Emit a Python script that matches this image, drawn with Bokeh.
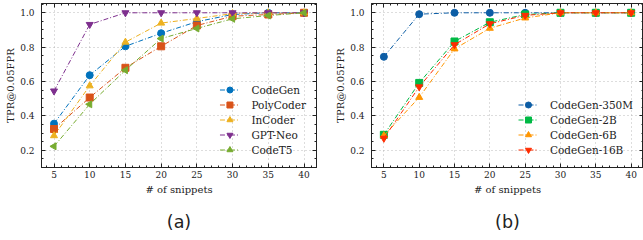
import numpy as np
from bokeh.plotting import figure
from bokeh.models import (Range1d, LinearAxis, FixedTicker, Legend, LegendItem, Title,
                          NumeralTickFormatter)
from bokeh.layouts import row
from bokeh.embed import file_html
from bokeh.resources import INLINE

snippets = [5, 10, 15, 20, 25, 30, 35, 40]

# panel (a)
codegen = [0.355, 0.637, 0.805, 0.881, 0.948, 0.99, 1.0, 1.0]
polycoder = [0.324, 0.507, 0.68, 0.805, 0.926, 0.98, 0.99, 1.0]
incoder = [0.285, 0.575, 0.829, 0.94, 0.967, 0.995, 1.0, 1.0]
gptneo = [0.545, 0.932, 1.0, 1.0, 1.0, 1.0, 1.0, 1.0]
codet5 = [0.223, 0.468, 0.666, 0.85, 0.909, 0.965, 0.984, 1.0]

# panel (b)
cg350m = [0.744, 0.992, 1.0, 1.0, 1.0, 1.0, 1.0, 1.0]
cg2b = [0.29, 0.592, 0.833, 0.945, 0.99, 1.0, 1.0, 1.0]
cg6b = [0.285, 0.508, 0.79, 0.91, 0.97, 1.0, 1.0, 1.0]
cg16b = [0.27, 0.569, 0.814, 0.936, 0.985, 1.0, 1.0, 1.0]

x_ticks = [5, 10, 15, 20, 25, 30, 35, 40]
y_ticks = [0.2, 0.4, 0.6, 0.8, 1.0]

series_a = [
    ("CodeGen", codegen, "#0072BD", "circle", 0.0),
    ("PolyCoder", polycoder, "#D95319", "square", 0.0),
    ("InCoder", incoder, "#EDB120", "triangle", 0.0),
    ("GPT-Neo", gptneo, "#7E2F8E", "inverted_triangle", 0.0),
    ("CodeT5", codet5, "#77AC30", "triangle", np.pi / 2),
]
series_b = [
    ("CodeGen-350M", cg350m, "#0C5DA5", "circle", 0.0),
    ("CodeGen-2B", cg2b, "#00B945", "square", 0.0),
    ("CodeGen-6B", cg6b, "#FF9500", "triangle", 0.0),
    ("CodeGen-16B", cg16b, "#FF2C00", "inverted_triangle", 0.0),
]

SERIF = "DejaVu Serif"
INK = "#222222"


def style_axis(ax, ticks=None, labels=True):
    ax.major_tick_in = 4
    ax.major_tick_out = 0
    ax.minor_tick_in = 2
    ax.minor_tick_out = 0
    ax.axis_line_color = INK
    ax.major_tick_line_color = INK
    ax.minor_tick_line_color = INK
    if labels:
        ax.major_label_text_font = SERIF
        ax.major_label_text_font_size = "9px"
        ax.major_label_text_color = INK
        ax.axis_label_text_font = SERIF
        ax.axis_label_text_font_size = "10px"
        ax.axis_label_text_font_style = "normal"
        ax.axis_label_text_color = INK
    else:
        ax.major_label_overrides = {t: "" for t in ticks}
        ax.major_label_standoff = 0


def make_panel(series, caption, frame_w, border_right):
    xt = FixedTicker(ticks=x_ticks, minor_ticks=list(range(3, 42)))
    yt = FixedTicker(ticks=y_ticks, minor_ticks=[round(v, 2) for v in np.arange(0.1, 1.06, 0.05)])
    p = figure(frame_width=frame_w, frame_height=164, output_backend="svg",
               toolbar_location=None, x_range=Range1d(3.25, 41.75),
               y_range=Range1d(0.1, 1.054),
               min_border_left=41, min_border_right=border_right,
               min_border_top=3, min_border_bottom=0)
    p.outline_line_color = INK
    p.xaxis.ticker = xt
    p.yaxis.ticker = yt
    p.yaxis.formatter = NumeralTickFormatter(format="0.0")
    p.xaxis.axis_label = "# of snippets"
    p.yaxis.axis_label = "TPR@0.05FPR"
    p.xaxis.major_label_standoff = 3
    p.yaxis.major_label_standoff = 7
    p.xaxis.axis_label_standoff = 3
    p.yaxis.axis_label_standoff = 1
    style_axis(p.xaxis[0])
    style_axis(p.yaxis[0])
    top = LinearAxis(ticker=xt)
    style_axis(top, ticks=x_ticks, labels=False)
    p.add_layout(top, "above")
    right = LinearAxis(ticker=yt)
    style_axis(right, ticks=y_ticks, labels=False)
    p.add_layout(right, "right")
    for g in (p.xgrid[0], p.ygrid[0]):
        g.grid_line_dash = "1 3"
        g.grid_line_color = "#aaaaaa"
        g.grid_line_width = 0.8
    p.xgrid.ticker = xt
    p.ygrid.ticker = yt

    items = []
    for name, vals, color, marker, ang in series:
        ln = p.line(snippets, vals, line_color=color, line_width=1, line_dash="5 2 1 2")
        sc = p.scatter(snippets, vals, marker=marker, size=7, angle=ang,
                       fill_color=color, line_color=color)
        items.append(LegendItem(label=name, renderers=[ln, sc]))
    leg = Legend(items=items, location="bottom_right")
    leg.border_line_alpha = 0
    leg.background_fill_alpha = 0
    leg.label_text_font = SERIF
    leg.label_text_font_size = "10.5px"
    leg.label_text_color = INK
    leg.glyph_width = 20
    leg.glyph_height = 15
    leg.label_height = 15
    leg.spacing = 0
    leg.padding = 4
    leg.margin = 6
    leg.label_standoff = 12
    p.add_layout(leg)

    t = Title(text=caption, align="center", text_font="DejaVu Sans",
              text_font_size="17.5px", text_font_style="normal", text_color=INK,
              standoff=25)
    p.add_layout(t, "below")
    return p


pa = make_panel(series_a, "(a)", 275, 14)
pb = make_panel(series_b, "(b)", 272, 0)
layout = row(pa, pb)

open("out.html", "w").write(file_html(layout, INLINE))
